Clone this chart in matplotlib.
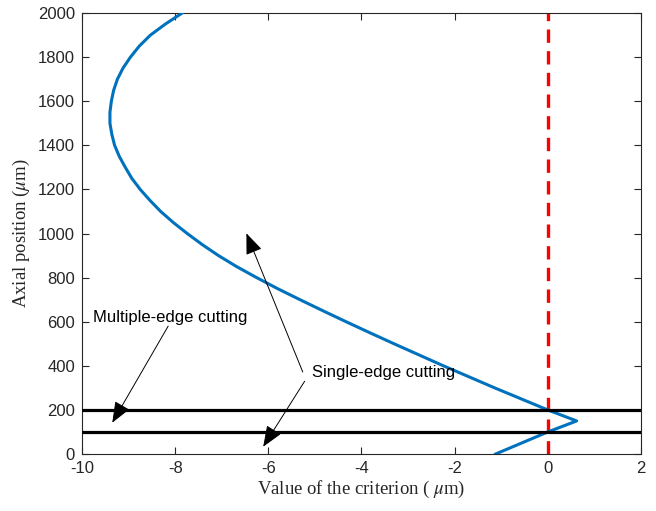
import numpy as np
import matplotlib.pyplot as plt

plt.rcParams['mathtext.fontset'] = 'stix'
plt.rcParams['axes.unicode_minus'] = False

# criterion curve (x in um, y = axial position in um)
crit_y = [0, 100, 150, 200, 250, 300, 350, 400, 450, 500, 550, 600, 650, 700, 750,
          800, 850, 900, 950, 1000, 1050, 1100, 1150, 1200, 1250, 1300, 1350, 1400,
          1450, 1500, 1550, 1600, 1650, 1700, 1750, 1800, 1850, 1900, 1950, 2000]
crit_x = [-1.12, 0.0, 0.62, 0.0, -0.57, -1.14, -1.69, -2.24, -2.77, -3.30, -3.82,
          -4.33, -4.83, -5.32, -5.80, -6.25, -6.68, -7.07, -7.42, -7.74, -8.04, -8.31,
          -8.54, -8.75, -8.93, -9.07, -9.2, -9.3, -9.36, -9.40, -9.40, -9.37, -9.32,
          -9.24, -9.12, -8.96, -8.77, -8.53, -8.21, -7.85]
edge_levels = [100, 200]
zero_x = 0

fig = plt.figure(figsize=(6.56, 5.11), dpi=100)
ax = fig.add_axes([0.125, 0.1115, 0.852, 0.863])

ax.plot(crit_x, crit_y, color='#0072BD', lw=2.2, zorder=3, solid_joinstyle='round')
ax.plot([zero_x, zero_x], [0, 2000], color='red', lw=2.4, ls=(0, (4, 2.5)), zorder=2)
for lev in edge_levels:
    ax.plot([-10, 2], [lev, lev], color='black', lw=2.3, zorder=4)

ax.set_xlim(-10, 2)
ax.set_ylim(0, 2000)
ax.set_xticks(np.arange(-10, 3, 2))
ax.set_yticks(np.arange(0, 2001, 200))
ax.tick_params(direction='in', top=True, right=True, length=5, width=0.8,
               colors='#262626', labelsize=12, pad=5)
for lab in ax.get_xticklabels() + ax.get_yticklabels():
    lab.set_family('Liberation Sans')
for s in ax.spines.values():
    s.set_color('#262626')
    s.set_linewidth(0.8)

ax.set_xlabel(r'Value of the criterion ( $\mu$m)', family='Liberation Serif',
              fontsize=13.5, color='#262626', labelpad=2)
ax.set_ylabel(r'Axial position ($\mu$m)', family='Liberation Serif',
              fontsize=13.5, color='#262626', labelpad=4)

arrow = dict(arrowstyle='-|>,head_length=1.0,head_width=0.4', color='black',
             lw=0.7, shrinkA=0, shrinkB=0, mutation_scale=13)
ax.text(-9.77, 620, 'Multiple-edge cutting', family='Liberation Sans', fontsize=12,
        va='center', ha='left')
ax.annotate('', xy=(-9.35, 142), xytext=(-8.15, 580), arrowprops=arrow)

ax.text(-5.07, 368, 'Single-edge cutting', family='Liberation Sans', fontsize=12,
        va='center', ha='left')
ax.annotate('', xy=(-6.47, 1001), xytext=(-5.26, 372), arrowprops=arrow)
ax.annotate('', xy=(-6.11, 33), xytext=(-5.22, 330), arrowprops=arrow)

fig.savefig('out.png', dpi=100)
